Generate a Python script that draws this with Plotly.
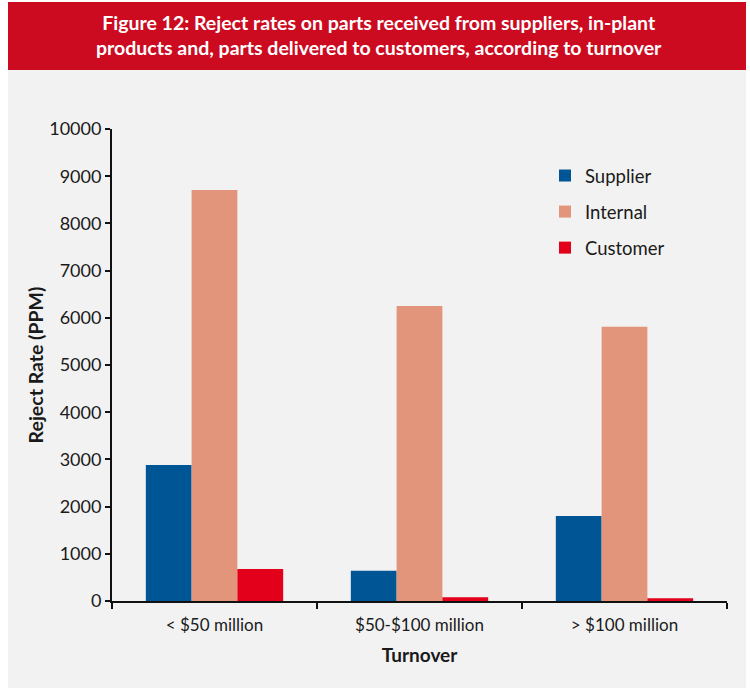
import plotly.graph_objects as go

# Reject rates (PPM) by company turnover band
turnover = ["< $50 million", "$50-$100 million", "> $100 million"]
supplier = [2880, 640, 1800]
internal = [8710, 6250, 5810]
customer = [680, 80, 60]

series_names = ["Supplier", "Internal", "Customer"]
series_colors = ["#005694", "#E2957A", "#E2001A"]

W, H = 750, 688
# plot area in pixels
L, R, T, B = 112, 727, 129, 601


def px(x):
    return (x - L) / (R - L)


def py(y):
    return (B - y) / (B - T)


fig = go.Figure()
for name, vals, col in zip(series_names, [supplier, internal, customer], series_colors):
    fig.add_trace(go.Bar(
        name=name, x=turnover, y=vals, marker=dict(color=col, line=dict(width=0)),
        legendgroup=name,
    ))

font_family = "Lato, 'Open Sans', sans-serif"

fig.update_layout(
    width=W, height=H,
    margin=dict(l=L, r=W - R, t=T, b=H - B, pad=0),
    paper_bgcolor="white",
    plot_bgcolor="rgba(0,0,0,0)",
    barmode="group",
    bargap=0.33,
    bargroupgap=0,
    font=dict(family=font_family, color="#1a1a1a", size=16),
    showlegend=True,
    legend=dict(
        x=px(545), y=py(157), xanchor="left", yanchor="top",
        bgcolor="rgba(0,0,0,0)", font=dict(size=18.5, color="#1a1a1a"),
        tracegroupgap=9,
    ),
    xaxis=dict(
        showline=True, linecolor="#111", linewidth=2,
        ticks="outside", tickson="boundaries", ticklen=6, tickwidth=2, tickcolor="#111",
        tickfont=dict(size=17), ticklabelstandoff=8,
        title=dict(text="<b>Turnover</b>", font=dict(size=19), standoff=14),
        showgrid=False, zeroline=False,
    ),
    yaxis=dict(
        range=[0, 10000], dtick=1000, tickformat="d",
        showline=True, linecolor="#111", linewidth=2,
        ticks="outside", ticklen=5, tickwidth=2, tickcolor="#111",
        tickfont=dict(size=18),
        title=dict(text="<b>Reject Rate (PPM)</b>", font=dict(size=19.5), standoff=0),
        showgrid=False, zeroline=False,
    ),
    shapes=[
        # grey panel
        dict(type="rect", xref="paper", yref="paper", layer="below",
             x0=px(8), x1=px(746), y0=py(688), y1=py(70),
             fillcolor="#F2F2F2", line=dict(width=0)),
        # red header band
        dict(type="rect", xref="paper", yref="paper", layer="below",
             x0=px(8), x1=px(746), y0=py(70), y1=py(2),
             fillcolor="#CC0A20", line=dict(width=0)),
    ],
    annotations=[
        dict(xref="paper", yref="paper", x=px(379), y=py(35), xanchor="center", yanchor="middle",
             showarrow=False, align="center",
             text="<b>Figure 12: Reject rates on parts received from suppliers, in-plant<br>"
                  "products and, parts delivered to customers, according to turnover</b>",
             font=dict(size=19.5, color="white", family=font_family)),
    ],
)

fig.write_html("out.html")
